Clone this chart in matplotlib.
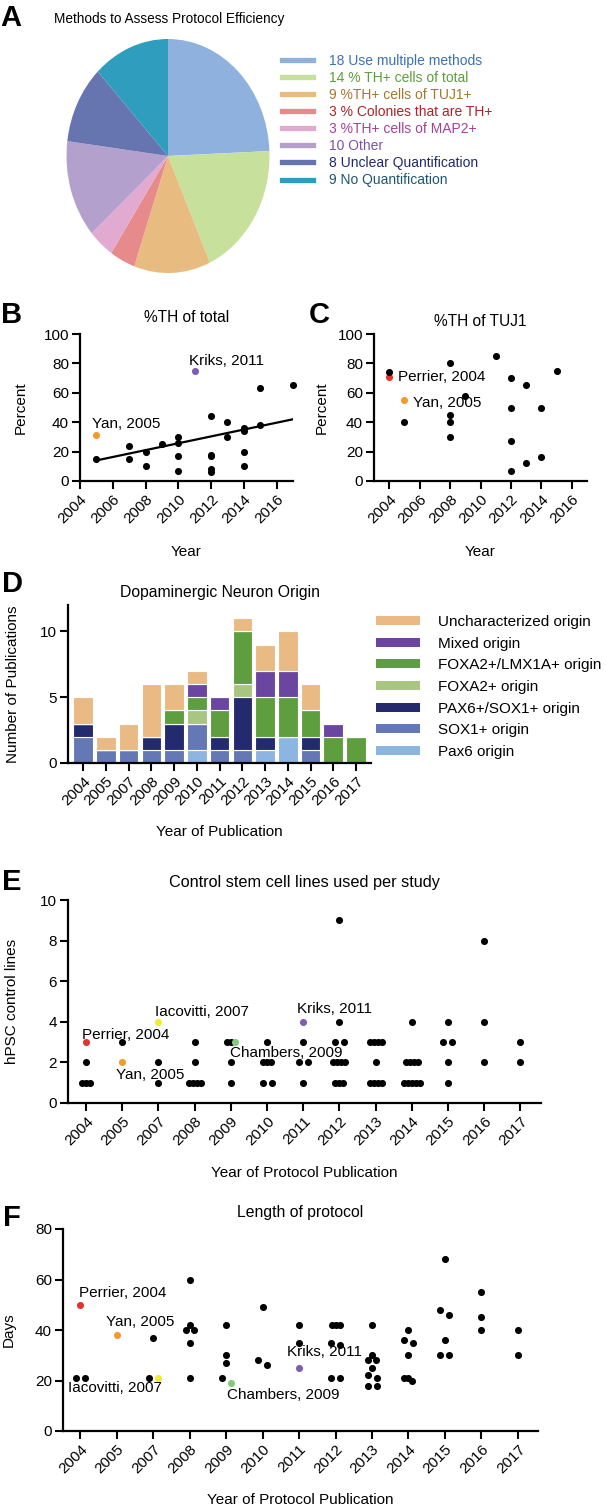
import matplotlib
matplotlib.use("Agg")
import matplotlib.pyplot as plt
from matplotlib.lines import Line2D
from matplotlib.patches import Patch

plt.rcParams['font.family'] = ['Liberation Sans', 'DejaVu Sans']

# ---------------- data ----------------
# A: methods used to assess protocol efficiency
method_counts = [18, 14, 9, 3, 3, 10, 8, 9]
method_names = ["Use multiple methods", "% TH+ cells of total", "%TH+ cells of TUJ1+",
                "% Colonies that are TH+", "%TH+ cells of MAP2+", "Other",
                "Unclear Quantification", "No Quantification"]
method_colors = ["#8FB1DD", "#C7E19D", "#E8BB80", "#E68A8C", "#E3AAD1", "#B3A0CC", "#6675AF", "#2F9DBE"]
method_text_colors = ["#3C70B4", "#5C9E3A", "#A87530", "#B02228", "#A8409A", "#7D52AE", "#1F2A6C", "#1B5870"]

# highlighted studies
hl_colors = {"Perrier": "#E8302C", "Yan": "#F39A2F", "Iacovitti": "#F2EA33",
             "Chambers": "#80CC7C", "Kriks": "#7E5EB0"}

# B: %TH of total
b_year = [2005, 2007, 2007, 2008, 2008, 2009, 2010, 2010, 2010, 2010, 2012, 2012, 2012,
          2012, 2012, 2013, 2013, 2014, 2014, 2014, 2014, 2015, 2015, 2017]
b_pct = [15, 24, 15, 20, 10, 25, 30, 26, 17, 7, 44, 18, 17, 8, 6, 40, 30, 36, 34, 20, 10, 63, 38, 65]
b_fit_year = [2005, 2017]
b_fit_pct = [14, 42]
b_hl_name = ["Yan", "Kriks"]
b_hl_year = [2005, 2011]
b_hl_pct = [31, 75]

# C: %TH of TUJ1
c_year = [2004, 2005, 2008, 2008, 2008, 2008, 2009, 2011, 2012, 2012, 2012, 2012,
          2013, 2013, 2014, 2014, 2015]
c_pct = [74, 40, 80, 45, 40, 30, 58, 85, 70, 50, 27, 7, 65, 12, 50, 16, 75]
c_hl_name = ["Perrier", "Yan"]
c_hl_year = [2004, 2005]
c_hl_pct = [71, 55]

# D: dopaminergic neuron origin (stack order bottom -> top)
pub_years = ["2004", "2005", "2007", "2008", "2009", "2010", "2011", "2012", "2013",
             "2014", "2015", "2016", "2017"]
origin_names = ["Pax6 origin", "SOX1+ origin", "PAX6+/SOX1+ origin", "FOXA2+ origin",
                "FOXA2+/LMX1A+ origin", "Mixed origin", "Uncharacterized origin"]
origin_colors = ["#8DB5E2", "#6478B5", "#242A6E", "#A9C680", "#5F9E3F", "#6A46A0", "#E9BA84"]
pax6 = [0, 0, 0, 0, 0, 1, 0, 0, 1, 2, 0, 0, 0]
sox1 = [2, 1, 1, 1, 1, 2, 1, 1, 0, 0, 1, 0, 0]
pax6_sox1 = [1, 0, 0, 1, 2, 0, 1, 4, 1, 0, 1, 0, 0]
foxa2 = [0, 0, 0, 0, 0, 1, 0, 1, 0, 0, 0, 0, 0]
foxa2_lmx1a = [0, 0, 0, 0, 1, 1, 2, 4, 3, 3, 2, 2, 2]
mixed = [0, 0, 0, 0, 0, 1, 1, 0, 2, 2, 0, 1, 0]
uncharacterized = [2, 1, 2, 4, 2, 1, 0, 1, 2, 3, 2, 0, 0]

# E: control stem cell lines per study (black points per year)
e_lines = [[2, 1, 1, 1], [3], [2, 1], [3, 2, 1, 1, 1, 1], [3, 3, 2, 1], [3, 2, 2, 2, 1, 1],
           [3, 2, 2, 1], [9, 4, 3, 3, 2, 2, 2, 2, 1, 1, 1], [3, 3, 3, 3, 2, 1, 1, 1, 1],
           [4, 2, 2, 2, 2, 1, 1, 1, 1, 1], [4, 3, 3, 2, 1], [8, 4, 2], [3, 2]]
e_hl_name = ["Perrier", "Yan", "Iacovitti", "Chambers", "Kriks"]
e_hl_year = ["2004", "2005", "2007", "2009", "2011"]
e_hl_lines = [3, 2, 4, 3, 4]

# F: length of protocol (days)
f_days = [[21, 21], [], [37, 21], [60, 42, 40, 40, 35, 21], [42, 30, 27, 21], [49, 28, 26],
          [42, 35], [42, 42, 42, 35, 34, 21, 21], [42, 30, 28, 28, 25, 22, 21, 18, 18],
          [40, 36, 35, 30, 21, 21, 20], [68, 48, 46, 36, 30, 30], [55, 45, 40], [40, 30]]
f_hl_name = ["Perrier", "Yan", "Iacovitti", "Chambers", "Kriks"]
f_hl_year = ["2004", "2005", "2007", "2009", "2011"]
f_hl_days = [50, 38, 21, 19, 25]

# ---------------- figure ----------------
W, H = 606, 1508
fig = plt.figure(figsize=(W / 100, H / 100), dpi=100)


def box(l, t, r, b):
    return [l / W, 1 - b / H, (r - l) / W, (b - t) / H]


def prism(ax):
    for s in ["top", "right"]:
        ax.spines[s].set_visible(False)
    for s in ["left", "bottom"]:
        ax.spines[s].set_linewidth(1.6)
    ax.tick_params(width=1.5, length=6, labelsize=11, pad=2, color="black")


def letter(x, y, s):
    fig.text(x / W, 1 - y / H, s, fontsize=21, fontweight="bold", ha="center", va="center")


def swarm(vals, gap):
    # spread points of similar value sideways (in pixels)
    order = sorted(range(len(vals)), key=lambda i: -vals[i])
    groups = []
    for i in order:
        if groups and abs(vals[groups[-1][-1]] - vals[i]) <= gap:
            groups[-1].append(i)
        else:
            groups.append([i])
    offs = [0.0] * len(vals)
    for g in groups:
        n = len(g)
        if n == 2:
            slots = [-4.5, 4.5]
        elif n % 2 == 1:
            slots = [0.0]
            k = 1
            while len(slots) < n:
                slots += [-4.0 * k, 4.0 * k]
                k += 1
        else:
            slots = [(j - (n - 1) / 2) * 4.0 for j in range(n)]
        for i, s in zip(g, slots):
            offs[i] = s
    return offs


# ---- A ----
axA = fig.add_axes(box(66.5, 39, 269.5, 273))
axA.pie(method_counts, colors=method_colors, startangle=90, counterclock=False,
        wedgeprops=dict(linewidth=0))
axA.set_aspect("auto")
axA.set_xlim(-1, 1)
axA.set_ylim(-1, 1)
fig.text(169 / W, 1 - 19 / H, "Methods to Assess Protocol Efficiency", fontsize=9.8,
         ha="center", va="center")
handles = [Line2D([], [], color=c, lw=3.8) for c in method_colors]
labels = ["%d %s" % (n, s) for n, s in zip(method_counts, method_names)]
axA.legend(handles, labels, loc="upper left", bbox_to_anchor=(282 / W, 1 - 54 / H),
           bbox_transform=fig.transFigure, frameon=False, fontsize=10, handlelength=2.2,
           handletextpad=1.2, labelspacing=0.22, borderpad=0, borderaxespad=0,
           labelcolor=method_text_colors)
letter(11, 18.5, "A")

# ---- B ----
axB = fig.add_axes(box(80, 334, 293, 481))
prism(axB)
axB.plot(b_fit_year, b_fit_pct, color="black", lw=1.6, zorder=2)
axB.scatter(b_year, b_pct, s=26, color="black", zorder=3, clip_on=False, linewidths=0)
for name, yr, v in zip(b_hl_name, b_hl_year, b_hl_pct):
    axB.scatter([yr], [v], s=26, color=hl_colors[name], zorder=4, clip_on=False, linewidths=0)
axB.annotate("Yan, 2005", (2005, 31), xytext=(-4, 11), textcoords="offset pixels",
             fontsize=11, ha="left", va="center")
axB.annotate("Kriks, 2011", (2011, 75), xytext=(-6, 10), textcoords="offset pixels",
             fontsize=11, ha="left", va="center")
axB.set_xlim(2004, 2017)
axB.set_ylim(0, 100)
axB.set_yticks(range(0, 101, 20))
axB.set_xticks(range(2004, 2017, 2))
axB.set_xticklabels([str(y) for y in range(2004, 2017, 2)], rotation=45, ha="right",
                    rotation_mode="anchor")
axB.set_ylabel("Percent", fontsize=11)
axB.yaxis.set_label_coords(-0.244, 0.5)
axB.set_xlabel("Year", fontsize=11)
axB.xaxis.set_label_coords(0.5, -0.435)
axB.text(0.5, 1.109, "%TH of total", transform=axB.transAxes, fontsize=11.2, ha="center", va="center")
letter(12, 315, "B")

# ---- C ----
axC = fig.add_axes(box(374, 334, 587, 481))
prism(axC)
for name, yr, v in zip(c_hl_name, c_hl_year, c_hl_pct):
    axC.scatter([yr], [v], s=26, color=hl_colors[name], zorder=2, linewidths=0)
axC.scatter(c_year, c_pct, s=26, color="black", zorder=3, linewidths=0)
axC.annotate("Perrier, 2004", (2004, 71), xytext=(9, 0), textcoords="offset pixels",
             fontsize=11, ha="left", va="center")
axC.annotate("Yan, 2005", (2005, 55), xytext=(9, -3), textcoords="offset pixels",
             fontsize=11, ha="left", va="center")
axC.set_xlim(2003, 2017)
axC.set_ylim(0, 100)
axC.set_yticks(range(0, 101, 20))
axC.set_xticks(range(2004, 2017, 2))
axC.set_xticklabels([str(y) for y in range(2004, 2017, 2)], rotation=45, ha="right",
                    rotation_mode="anchor")
axC.set_ylabel("Percent", fontsize=11)
axC.yaxis.set_label_coords(-0.211, 0.5)
axC.set_xlabel("Year", fontsize=11)
axC.xaxis.set_label_coords(0.5, -0.435)
axC.text(0.5, 1.088, "%TH of TUJ1", transform=axC.transAxes, fontsize=11.2, ha="center", va="center")
letter(319, 315, "C")

# ---- D ----
axD = fig.add_axes(box(68, 605, 371, 763))
prism(axD)
stack = [pax6, sox1, pax6_sox1, foxa2, foxa2_lmx1a, mixed, uncharacterized]
xs = list(range(len(pub_years)))
bottom = [0] * len(pub_years)
for vals, col, name in zip(stack, origin_colors, origin_names):
    axD.bar(xs, vals, bottom=bottom, width=0.86, color=col, edgecolor="white", linewidth=0.8,
            label=name)
    bottom = [b + v for b, v in zip(bottom, vals)]
axD.set_xlim(-0.67, 12.66)
axD.set_ylim(0, 12)
axD.set_yticks([0, 5, 10])
axD.set_xticks(xs)
axD.set_xticklabels(pub_years, rotation=45, ha="right", rotation_mode="anchor")
axD.set_ylabel("Number of Publications", fontsize=11)
axD.yaxis.set_label_coords(-0.158, 0.5)
axD.set_xlabel("Year of Publication", fontsize=11)
axD.xaxis.set_label_coords(0.5, -0.392)
axD.text(0.5, 1.076, "Dopaminergic Neuron Origin", transform=axD.transAxes, fontsize=11.3,
         ha="center", va="center")
dh = [Patch(facecolor=c, edgecolor="none") for c in origin_colors][::-1]
axD.legend(dh, origin_names[::-1], loc="upper left", bbox_to_anchor=(376 / W, 1 - 615 / H),
           bbox_transform=fig.transFigure, frameon=False, fontsize=11, handlelength=2.9,
           handleheight=0.55, handletextpad=1.15, labelspacing=0.5, borderpad=0,
           borderaxespad=0)
letter(12, 584, "D")


def category_scatter(ax, black_lists, hl_names, hl_years, hl_vals, gap, px_per_cat, label_offsets):
    for i, yr in enumerate(pub_years):
        vals = list(black_lists[i])
        idx_hl = [k for k, y in enumerate(hl_years) if y == yr]
        vals_all = vals + [hl_vals[k] for k in idx_hl]
        offs = swarm(vals_all, gap)
        bx = [i + o / px_per_cat for o in offs[:len(vals)]]
        ax.scatter(bx, vals, s=26, color="black", zorder=3, linewidths=0, clip_on=False)
        for j, k in enumerate(idx_hl):
            x = i + offs[len(vals) + j] / px_per_cat
            ax.scatter([x], [hl_vals[k]], s=26, color=hl_colors[hl_names[k]], zorder=4,
                       linewidths=0)
            dx, dy, ha = label_offsets[k]
            ax.annotate("%s, %s" % (hl_names[k], yr), (x, hl_vals[k]), xytext=(dx, dy),
                        textcoords="offset pixels", fontsize=11, ha=ha, va="center")


# ---- E ----
axE = fig.add_axes(box(68, 900, 541, 1103))
prism(axE)
e_xlim = (-0.5, 12.57)
axE.set_xlim(*e_xlim)
axE.set_ylim(0, 10)
category_scatter(axE, e_lines, e_hl_name, e_hl_year, e_hl_lines, 0.5,
                 473 / (e_xlim[1] - e_xlim[0]),
                 [(-4, 7, "left"), (-6, -13, "left"), (-3, 10, "left"), (-5, -11, "left"),
                  (-6, 13, "left")])
axE.set_yticks(range(0, 11, 2))
axE.set_xticks(xs)
axE.set_xticklabels(pub_years, rotation=45, ha="right", rotation_mode="anchor")
axE.set_ylabel("hPSC control lines", fontsize=11)
axE.yaxis.set_label_coords(-0.1036, 0.5)
axE.set_xlabel("Year of Protocol Publication", fontsize=11)
axE.xaxis.set_label_coords(0.5, -0.310)
axE.text(0.5, 1.084, "Control stem cell lines used per study", transform=axE.transAxes,
         fontsize=11.7, ha="center", va="center")
letter(12, 882, "E")

# ---- F ----
axF = fig.add_axes(box(63, 1229, 538, 1431))
prism(axF)
f_xlim = (-0.47, 12.55)
axF.set_xlim(*f_xlim)
axF.set_ylim(0, 80)
category_scatter(axF, f_days, f_hl_name, f_hl_year, f_hl_days, 2.5,
                 475 / (f_xlim[1] - f_xlim[0]),
                 [(-1, 12, "left"), (-11, 13, "left"), (4, -10, "right"), (-4, -12, "left"),
                  (-12, 16, "left")])
axF.set_yticks(range(0, 81, 20))
axF.set_xticks(xs)
axF.set_xticklabels(pub_years, rotation=45, ha="right", rotation_mode="anchor")
axF.set_ylabel("Days", fontsize=11)
axF.yaxis.set_label_coords(-0.099, 0.5)
axF.set_xlabel("Year of Protocol Publication", fontsize=11)
axF.xaxis.set_label_coords(0.5, -0.307)
axF.text(0.5, 1.084, "Length of protocol", transform=axF.transAxes, fontsize=11.3,
         ha="center", va="center")
letter(12, 1218, "F")

fig.savefig("out.png", dpi=100)
